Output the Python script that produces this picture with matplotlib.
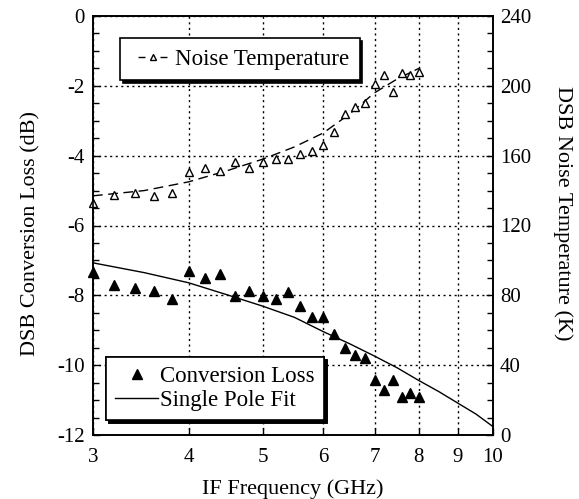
import matplotlib
matplotlib.use("Agg")
import matplotlib.pyplot as plt
from matplotlib.ticker import FixedLocator, NullLocator, MultipleLocator

plt.rcParams['font.family'] = ['Liberation Serif', 'DejaVu Serif']
plt.rcParams['axes.unicode_minus'] = False

freq = [3.0, 3.2, 3.4, 3.6, 3.8, 4.0, 4.2, 4.4, 4.6, 4.8, 5.0, 5.2, 5.4,
        5.6, 5.8, 6.0, 6.2, 6.4, 6.6, 6.8, 7.0, 7.2, 7.4, 7.6, 7.8, 8.0]
conv_loss = [-7.32, -7.70, -7.80, -7.88, -8.10, -7.30, -7.50, -7.39, -8.01,
             -7.88, -8.02, -8.10, -7.90, -8.31, -8.61, -8.61, -9.11, -9.52,
             -9.71, -9.80, -10.42, -10.71, -10.42, -10.92, -10.81, -10.92]
noise_temp = [132.9, 137.5, 138.4, 136.9, 138.4, 150.8, 152.8, 151.4, 156.5,
              152.8, 156.5, 157.9, 157.9, 161.0, 162.7, 166.1, 173.7, 183.9,
              187.7, 190.0, 200.9, 206.2, 196.6, 207.2, 206.2, 207.8]

fit_freq = [3.0, 3.5, 4.0, 4.5, 5.0, 5.5, 6.0, 6.5, 7.0, 7.5, 8.0, 8.5, 9.0, 9.5, 10.0]
fit_loss = [-7.07, -7.35, -7.64, -7.99, -8.31, -8.63, -9.04, -9.39, -9.74,
            -10.08, -10.44, -10.76, -11.09, -11.40, -11.76]

nfit_freq = [3.0, 3.5, 4.0, 4.5, 5.0, 5.5, 6.0, 6.5, 7.0, 7.5, 8.0]
nfit_temp = [137, 140, 145, 151.5, 158, 165, 173, 184, 196, 204, 210]

xticks = [3, 4, 5, 6, 7, 8, 9, 10]
xticklabels = ['3', '4', '5', '6', '7', '8', '9', '10']

fig = plt.figure(figsize=(5.79, 4.99), dpi=100)
ax = fig.add_axes([93/579, 1-435/499, 400/579, 419/499])
ax2 = ax.twinx()

TFS = 15
LFS = 16
GFS = 16.5

ax.set_xscale('log')
ax.set_xlim(3, 10)
ax.set_ylim(-12, 0)
ax2.set_ylim(0, 240)

ax.xaxis.set_major_locator(FixedLocator(xticks))
ax.xaxis.set_minor_locator(NullLocator())
ax.set_xticklabels(xticklabels)
ax.yaxis.set_major_locator(MultipleLocator(2))
ax.yaxis.set_minor_locator(MultipleLocator(0.5))
ax2.yaxis.set_major_locator(MultipleLocator(40))
ax2.yaxis.set_minor_locator(MultipleLocator(10))

for a in (ax, ax2):
    a.tick_params(which='both', direction='in', labelsize=TFS, width=1, colors='black')
    a.tick_params(which='major', length=5)
    a.tick_params(which='minor', length=4)
    for s in a.spines.values():
        s.set_linewidth(1.2)
ax.tick_params(axis='x', pad=9)
ax.tick_params(axis='y', pad=6)
ax2.tick_params(axis='y', pad=5)

ax.grid(True, which='major', color='black', linestyle=(0, (1.5, 2.5)), linewidth=1)

l_fit, = ax.plot(fit_freq, fit_loss, color='black', linewidth=1, label='Single Pole Fit')
l_cl, = ax.plot(freq, conv_loss, linestyle='none', marker='^', markersize=7,
                color='black', label='Conversion Loss', clip_on=False)

ax2.plot(nfit_freq, nfit_temp, color='black', linewidth=1, linestyle=(0, (7, 4)))
ax2.plot(freq, noise_temp, linestyle='none', marker='^', markersize=6,
         markerfacecolor='white', markeredgecolor='black', markeredgewidth=1, clip_on=False)
l_nt, = ax2.plot([], [], color='black', linewidth=1, linestyle=(10.0, (5.0, 10.8)), marker='^',
                 markersize=5, markerfacecolor='white', markeredgecolor='black',
                 label='Noise Temperature')

ax.set_xlabel('IF Frequency (GHz)', fontsize=LFS, labelpad=9)
ax.set_ylabel('DSB Conversion Loss (dB)', fontsize=LFS, labelpad=12, y=0.48)
ax2.set_ylabel('DSB Noise Temperature (K)', fontsize=LFS, rotation=270, labelpad=30, y=0.53)

shadow = {'color': 'black', 'alpha': 1}
leg1 = ax.legend(handles=[l_cl, l_fit], loc='lower left', bbox_to_anchor=(0.032, 0.036),
                 fontsize=GFS, frameon=True, fancybox=False, shadow=shadow,
                 edgecolor='black', framealpha=1, borderpad=0.4, handlelength=1.88,
                 handletextpad=0.1, labelspacing=0.1, borderaxespad=0)
leg1.get_frame().set_linewidth(1.2)
ax.add_artist(leg1)

leg2 = ax2.legend(handles=[l_nt], loc='upper left', bbox_to_anchor=(0.0675, 0.947),
                  fontsize=GFS, frameon=True, fancybox=False, shadow=shadow,
                  edgecolor='black', framealpha=1, borderpad=0.45, handlelength=1.96,
                  handletextpad=0.0, borderaxespad=0)
leg2.get_frame().set_linewidth(1.2)

fig.savefig('out.png', dpi=100)
